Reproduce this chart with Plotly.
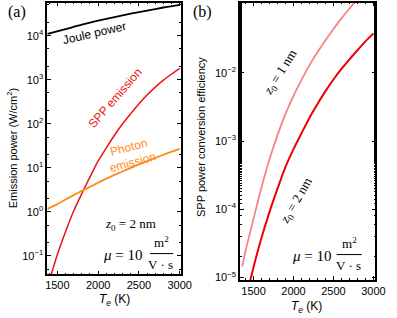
import plotly.graph_objects as go

# ---- data ----
# panel (a): emission power (W/cm^2) vs electron temperature Te (K)
joule_T = [1380, 1600, 1800, 2000, 2200, 2400, 2600, 2800, 3000]
joule_P = [11000, 14100, 17800, 21900, 26300, 31600, 37200, 43700, 50100]

spp_T = [1400, 1500, 1600, 1700, 1800, 1900, 2000, 2100, 2200, 2300, 2400, 2500,
         2600, 2700, 2800, 2900, 3000]
spp_P = [0.0263, 0.107, 0.355, 1.05, 2.6, 6.2, 14.3, 28.5, 55.0, 100, 170, 285,
         450, 680, 980, 1350, 1820]

photon_T = [1380, 1500, 1600, 1700, 1800, 1900, 2000, 2200, 2400, 2600, 2800, 3000]
photon_P = [1.17, 1.5, 1.9, 2.4, 3.0, 3.7, 4.6, 6.9, 10.0, 14.2, 19.8, 27.0]

# panel (b): SPP power conversion efficiency
z1_T = [1360, 1400, 1500, 1600, 1700, 1800, 1900, 2000, 2100, 2200, 2300, 2400,
        2500, 2600, 2700, 2800]
z1_eff = [1.45e-5, 2.45e-5, 7.24e-5, 2.10e-4, 5.40e-4, 1.22e-3, 2.50e-3, 4.60e-3,
          7.90e-3, 1.30e-2, 2.00e-2, 3.00e-2, 4.40e-2, 6.30e-2, 8.80e-2, 1.20e-1]
z2_T = [1450, 1500, 1600, 1700, 1800, 1900, 2000, 2100, 2200, 2300, 2400, 2500,
        2600, 2700, 2800, 2900, 3000]
z2_eff = [8.13e-6, 1.41e-5, 3.80e-5, 9.12e-5, 2.00e-4, 4.17e-4, 7.59e-4, 1.30e-3,
          2.20e-3, 3.50e-3, 5.40e-3, 8.00e-3, 1.14e-2, 1.58e-2, 2.15e-2, 2.90e-2, 3.80e-2]

xticks = [1500, 2000, 2500, 3000]
a_yticks = [1e-1, 1, 10, 100, 1000, 10000]
a_ytext = ["10<sup>\u22121</sup>", "10<sup>0</sup>", "10<sup>1</sup>", "10<sup>2</sup>",
           "10<sup>3</sup>", "10<sup>4</sup>"]
b_yticks = [1e-5, 1e-4, 1e-3, 1e-2]
b_ytext = ["10<sup>\u22125</sup>", "10<sup>\u22124</sup>", "10<sup>\u22123</sup>", "10<sup>\u22122</sup>"]

W, H = 397, 318
SANS = "Liberation Sans, Arial, sans-serif"
SERIF = "Liberation Serif, Times New Roman, serif"

fig = go.Figure()
fig.add_trace(go.Scatter(x=joule_T, y=joule_P, mode="lines",
                         line=dict(color="black", width=1.8, shape="spline", smoothing=0.6),
                         xaxis="x", yaxis="y"))
fig.add_trace(go.Scatter(x=spp_T, y=spp_P, mode="lines",
                         line=dict(color="#ee1111", width=1.5, shape="spline", smoothing=0.6),
                         xaxis="x", yaxis="y"))
fig.add_trace(go.Scatter(x=photon_T, y=photon_P, mode="lines",
                         line=dict(color="#ff8c1a", width=1.8, shape="spline", smoothing=0.6),
                         xaxis="x", yaxis="y"))
fig.add_trace(go.Scatter(x=z1_T, y=z1_eff, mode="lines",
                         line=dict(color="#f58585", width=1.8, shape="spline", smoothing=0.6),
                         xaxis="x2", yaxis="y2"))
fig.add_trace(go.Scatter(x=z2_T, y=z2_eff, mode="lines",
                         line=dict(color="#ee0000", width=2, shape="spline", smoothing=0.6),
                         xaxis="x2", yaxis="y2"))

def px(x):
    return x / W

def py(y):
    return 1 - y / H

common_x = dict(showline=True, linecolor="black", linewidth=1.5, mirror="allticks", ticks="inside",
                ticklen=4, tickcolor="black", tickwidth=1, showgrid=False, zeroline=False,
                tickvals=xticks, tickfont=dict(family=SANS, size=11, color="black"),
                minor=dict(ticks="inside", ticklen=2, tickcolor="black", dtick=100, showgrid=False))
common_y = dict(type="log", showline=True, linecolor="black", linewidth=1.5, mirror="allticks",
                ticks="inside", ticklen=4, tickcolor="black", tickwidth=1, showgrid=False, zeroline=False,
                tickfont=dict(family=SANS, size=11, color="black"),
                minor=dict(ticks="inside", ticklen=2, tickcolor="black", showgrid=False))

fig.update_layout(
    width=W, height=H, margin=dict(l=0, r=0, t=0, b=0, pad=0),
    paper_bgcolor="white", plot_bgcolor="white", showlegend=False,
    xaxis=dict(domain=[px(46.7), px(185)], range=[1375, 3015], anchor="y", **common_x),
    yaxis=dict(domain=[py(277), py(2.7)], range=[-1.42, 4.75], anchor="x",
               tickvals=a_yticks, ticktext=a_ytext, **common_y),
    xaxis2=dict(domain=[px(246), px(386)], range=[1330, 3024], anchor="y2", **common_x),
    yaxis2=dict(domain=[py(282.7), py(2.7)], range=[-5.04, -0.97], anchor="x2",
                tickvals=b_yticks, ticktext=b_ytext, **common_y),
)

ann = []

def add(text, x, y, size=11, color="black", family=SANS, angle=0, xanchor="center"):
    ann.append(dict(text=text, x=px(x), y=py(y), xref="paper", yref="paper", showarrow=False,
                    font=dict(family=family, size=size, color=color), textangle=angle,
                    xanchor=xanchor, yanchor="middle"))

# panel labels
add("(a)", 15, 12, size=16, family=SERIF)
add("(b)", 207, 12, size=16, family=SERIF)
# axis titles
add("Emission power (W/cm<sup>2</sup>)", 10, 150, size=11, angle=-90)
add("SPP power conversion efficiency", 205, 138, size=11, angle=-90)
add("<i>T<sub>e</sub></i> (K)", 116, 303, size=12)
add("<i>T<sub>e</sub></i> (K)", 315, 310, size=12)
# curve labels panel a
add("Joule power", 96, 33, size=12, angle=-13)
add("SPP emission", 117, 99, size=12, color="#ee1111", angle=-49)
add("Photon<br>emission", 133, 156, size=12, color="#ff8c1a", angle=-15)
add("<i>z</i><sub>0</sub> = 2 nm", 133, 227, size=13, family=SERIF)
add("<i>\u03bc</i> = 10", 125, 257, size=15, family=SERIF)
add("m<sup>2</sup>", 165, 244, size=13, family=SERIF)
add("V \u00b7 s", 164, 267, size=13, family=SERIF)
# panel b labels
add("<i>z</i><sub>0</sub> = 1 nm", 288, 73, size=13, family=SERIF, angle=-58)
add("<i>z</i><sub>0</sub> = 2 nm", 304, 203, size=13, family=SERIF, angle=-60)
add("<i>\u03bc</i> = 10", 320, 258, size=15, family=SERIF)
add("m<sup>2</sup>", 359, 245, size=13, family=SERIF)
add("V \u00b7 s", 358, 268, size=13, family=SERIF)

fig.update_layout(annotations=ann)

# fraction bars
for x0, x1, y in [(153, 177, 256), (346, 372, 257)]:
    fig.add_shape(type="line", xref="paper", yref="paper", x0=px(x0), x1=px(x1), y0=py(y), y1=py(y),
                  line=dict(color="black", width=1))

fig.write_html("out.html", config={"displayModeBar": False},
               post_script="document.body.style.margin='0';document.body.style.overflow='hidden';")
